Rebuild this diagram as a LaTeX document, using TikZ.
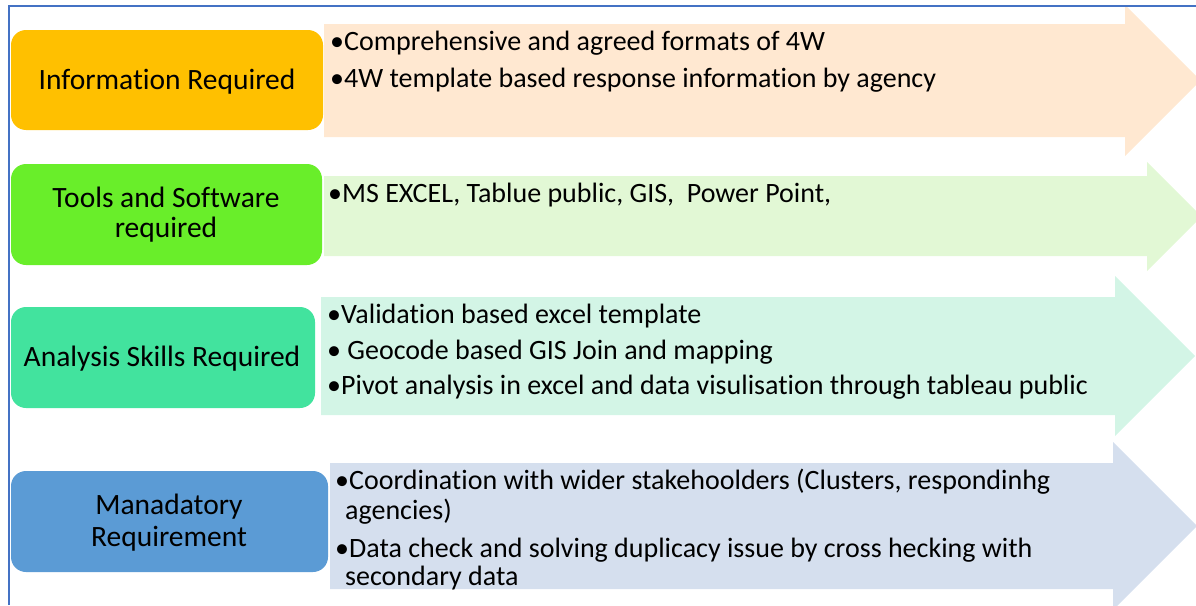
\documentclass[tikz,border=0pt]{standalone}
\usepackage{fontspec}
\setmainfont{Carlito}[Ligatures=NoCommon]
\definecolor{frameblue}{HTML}{4472C4}
\definecolor{boxA}{HTML}{FFC000}
\definecolor{arrA}{HTML}{FFE8D1}
\definecolor{boxB}{HTML}{69EE2A}
\definecolor{arrB}{HTML}{E2F8D5}
\definecolor{boxC}{HTML}{42E39E}
\definecolor{arrC}{HTML}{D3F5E6}
\definecolor{boxD}{HTML}{5B9BD5}
\definecolor{arrD}{HTML}{D5DFEE}
\tikzset{
  catbox/.style={rounded corners=15pt, draw=none},
  cattext/.style={align=center, font=\fontsize{29.5}{32}\selectfont, inner sep=0pt},
  bullettext/.style={anchor=base west, inner sep=0pt, font=\fontsize{28}{30}\selectfont},
}
\begin{document}
\begin{tikzpicture}[x=1pt,y=-1pt]
\useasboundingbox (0,0) rectangle (1196,605);
\begin{scope}
\clip (0,0) rectangle (1196,605);
% arrows
\fill[arrA] (324,24) -- (1125,24) -- (1125,5) -- (1200.5,80.5) -- (1125,156) -- (1125,137) -- (324,137) -- cycle;
\fill[arrB] (324,176) -- (1147,176) -- (1147,162) -- (1201.5,216.5) -- (1147,271) -- (1147,256) -- (324,256) -- cycle;
\fill[arrC] (321,297) -- (1115,297) -- (1115,276) -- (1195,356) -- (1115,436) -- (1115,415) -- (321,415) -- cycle;
\fill[arrD] (330,463) -- (1113,463) -- (1113,442) -- (1197,526) -- (1113,610) -- (1113,589) -- (330,589) -- cycle;
\end{scope}
% frame
\draw[frameblue, line width=1.5pt] (9,605) -- (9,6) -- (1196,6);
% category boxes
\fill[boxA, catbox] (11,30) rectangle (323,130);
\fill[boxB, catbox] (11,164) rectangle (322,265);
\fill[boxC, catbox] (11,307) rectangle (315,408);
\fill[boxD, catbox] (11,471) rectangle (328,572);
\node[cattext, anchor=base] (ta) at (167,89) {Information Required};
\node[cattext, anchor=base] (tb1) at (166,207) {Tools and Software};
\node[cattext, anchor=base] (tb2) at (166,237) {required};
\node[cattext, anchor=base] (tc) at (162,366) {Analysis Skills Required};
\node[cattext, anchor=base] (td1) at (169,514) {Manadatory};
\node[cattext, anchor=base] (td2) at (169,546) {Requirement};
% bullet texts
\node[bullettext] (a1) at (330,50) {•Comprehensive and agreed formats of 4W};
\node[bullettext] (a2) at (330,87) {•4W template based response information by agency};
\node[bullettext] (b1) at (328,202) {•MS EXCEL, Tablue public, GIS,\ \ Power Point,};
\node[bullettext] (c1) at (327,323) {•Validation based excel template};
\node[bullettext] (c2) at (327,359) {• Geocode based GIS Join and mapping};
\node[bullettext] (c3) at (327,394) {•Pivot analysis in excel and data visulisation through tableau public};
\node[bullettext] (d1) at (335,489) {•Coordination with wider stakehoolders (Clusters, respondinhg};
\node[bullettext] (d2) at (345,519) {agencies)};
\node[bullettext] (d3) at (335,557) {•Data check and solving duplicacy issue by cross hecking with};
\node[bullettext] (d4) at (345,585) {secondary data};
\end{tikzpicture}
\end{document}
